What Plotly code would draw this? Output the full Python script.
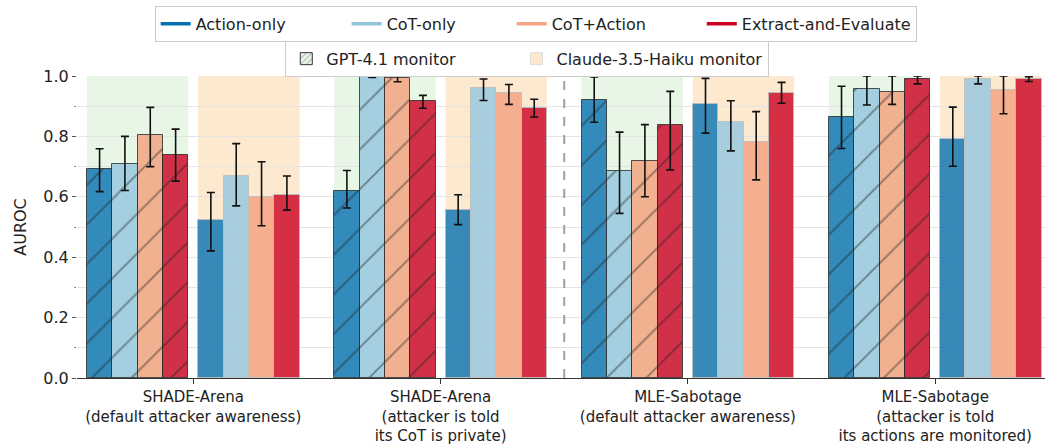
import plotly.graph_objects as go

categories = [
    "SHADE-Arena<br>(default attacker awareness)",
    "SHADE-Arena<br>(attacker is told<br>its CoT is private)",
    "MLE-Sabotage<br>(default attacker awareness)",
    "MLE-Sabotage<br>(attacker is told<br>its actions are monitored)",
]
methods = ["Action-only", "CoT-only", "CoT+Action", "Extract-and-Evaluate"]
monitors = ["GPT-4.1 monitor", "Claude-3.5-Haiku monitor"]

# GPT-4.1 monitor
gpt_action_only = [0.692, 0.620, 0.920, 0.863]
gpt_action_only_lo = [0.617, 0.563, 0.847, 0.760]
gpt_action_only_hi = [0.759, 0.687, 0.997, 0.966]
gpt_cot_only = [0.708, 0.999, 0.685, 0.956]
gpt_cot_only_lo = [0.621, 0.995, 0.545, 0.904]
gpt_cot_only_hi = [0.800, 1.000, 0.814, 1.000]
gpt_cot_action = [0.804, 0.992, 0.718, 0.948]
gpt_cot_action_lo = [0.700, 0.981, 0.600, 0.906]
gpt_cot_action_hi = [0.896, 1.000, 0.839, 1.000]
gpt_extract = [0.739, 0.916, 0.837, 0.989]
gpt_extract_lo = [0.652, 0.893, 0.689, 0.974]
gpt_extract_hi = [0.824, 0.936, 0.949, 1.000]

# Claude-3.5-Haiku monitor
haiku_action_only = [0.524, 0.557, 0.906, 0.790]
haiku_action_only_lo = [0.421, 0.508, 0.811, 0.701]
haiku_action_only_hi = [0.614, 0.607, 0.992, 0.897]
haiku_cot_only = [0.669, 0.961, 0.847, 0.990]
haiku_cot_only_lo = [0.570, 0.919, 0.752, 0.974]
haiku_cot_only_hi = [0.776, 0.990, 0.918, 1.000]
haiku_cot_action = [0.601, 0.945, 0.781, 0.954]
haiku_cot_action_lo = [0.504, 0.906, 0.656, 0.875]
haiku_cot_action_hi = [0.716, 0.972, 0.882, 1.000]
haiku_extract = [0.606, 0.893, 0.944, 0.989]
haiku_extract_lo = [0.556, 0.864, 0.910, 0.982]
haiku_extract_hi = [0.669, 0.923, 0.979, 0.998]

y_ticks = [0.0, 0.2, 0.4, 0.6, 0.8, 1.0]

series = {
    "gpt": [
        (gpt_action_only, gpt_action_only_lo, gpt_action_only_hi),
        (gpt_cot_only, gpt_cot_only_lo, gpt_cot_only_hi),
        (gpt_cot_action, gpt_cot_action_lo, gpt_cot_action_hi),
        (gpt_extract, gpt_extract_lo, gpt_extract_hi),
    ],
    "haiku": [
        (haiku_action_only, haiku_action_only_lo, haiku_action_only_hi),
        (haiku_cot_only, haiku_cot_only_lo, haiku_cot_only_hi),
        (haiku_cot_action, haiku_cot_action_lo, haiku_cot_action_hi),
        (haiku_extract, haiku_extract_lo, haiku_extract_hi),
    ],
}

line_colors = ["#0571b0", "#92c5de", "#f4a582", "#ca0020"]
fill_colors = ["rgba(5,113,176,0.80)", "rgba(146,197,222,0.80)",
               "rgba(244,165,130,0.85)", "rgba(202,0,32,0.80)"]

BW = 0.1025
CLUSTER_START = {"gpt": -0.43, "haiku": 0.02}
FONT = "DejaVu Sans"
NB = "\u00a0"

fig = go.Figure()

# background shading per monitor cluster
for g in range(len(categories)):
    fig.add_shape(type="rect", xref="x", yref="y", layer="below",
                  x0=g + CLUSTER_START["gpt"], x1=g + CLUSTER_START["gpt"] + 4 * BW,
                  y0=0, y1=1.0, line_width=0, fillcolor="#e7f6e5")
    fig.add_shape(type="rect", xref="x", yref="y", layer="below",
                  x0=g + CLUSTER_START["haiku"], x1=g + CLUSTER_START["haiku"] + 4 * BW,
                  y0=0, y1=1.0, line_width=0, fillcolor="#fde9d0")

fig.add_shape(type="line", xref="x", yref="y", x0=1.5, x1=1.5, y0=0, y1=1.0,
              line=dict(color="#a0a0a0", width=2, dash="dash"))

for mon in ["gpt", "haiku"]:
    for k, (vals, lo, hi) in enumerate(series[mon]):
        xs = [g + CLUSTER_START[mon] + (k + 0.5) * BW for g in range(len(categories))]
        plus = [h - v for h, v in zip(hi, vals)]
        minus = [v - l for v, l in zip(vals, lo)]
        if mon == "gpt":
            marker = dict(color=fill_colors[k],
                          line=dict(color="rgba(40,40,40,0.8)", width=1),
                          pattern=dict(shape="/", fillmode="overlay",
                                       fgcolor="rgba(30,30,30,0.8)", size=28, solidity=0.07))
        else:
            marker = dict(color=fill_colors[k],
                          line=dict(color="rgba(190,190,190,0.9)", width=1))
        fig.add_trace(go.Bar(
            x=xs, y=vals, width=BW, marker=marker, showlegend=False,
            error_y=dict(type="data", array=plus, arrayminus=minus, symmetric=False,
                         color="#111111", thickness=1.6, width=4),
        ))

# legend 1: methods
pads = [11, 10, 10, 0]
for k, m in enumerate(methods):
    fig.add_trace(go.Scatter(x=[None], y=[None], mode="lines", name=m + NB * pads[k],
                             line=dict(color=line_colors[k], width=3.5), legend="legend"))

# legend 2: monitors
fig.add_trace(go.Bar(x=[None], y=[None], name=monitors[0] + NB * 11, legend="legend2",
                     marker=dict(color="#e7f6e5", line=dict(color="#333333", width=1),
                                 pattern=dict(shape="/", fillmode="overlay", fgcolor="#333333",
                                              size=5, solidity=0.2))))
fig.add_trace(go.Bar(x=[None], y=[None], name=monitors[1], legend="legend2",
                     marker=dict(color="#fde9d0", line=dict(color="#dddddd", width=1))))

fig.update_layout(
    width=1045, height=448,
    margin=dict(l=77, r=0, t=76, b=70, autoexpand=False),
    paper_bgcolor="white", plot_bgcolor="white",
    font=dict(family=FONT, size=15, color="#222222"),
    barmode="overlay",
    bargap=0,
    showlegend=True,
    legend=dict(orientation="h", xref="container", yref="container",
                x=0.148, xanchor="left", y=0.987, yanchor="top",
                bordercolor="#cccccc", borderwidth=1, font=dict(size=16)),
    legend2=dict(orientation="h", xref="container", yref="container",
                 x=0.273, xanchor="left", y=0.909, yanchor="top",
                 bordercolor="#cccccc", borderwidth=1, font=dict(size=16)),
)

fig.update_xaxes(
    range=[-0.47, 3.444], automargin=False,
    tickmode="array", tickvals=list(range(len(categories))), ticktext=categories,
    ticks="outside", ticklen=5, tickcolor="#333333",
    showline=True, linecolor="#333333", linewidth=1,
    showgrid=False, zeroline=False,
    tickfont=dict(size=15, family=FONT),
)
fig.update_yaxes(
    range=[0, 1.0], automargin=False,
    tickmode="array", tickvals=y_ticks, ticktext=[f"{v:.1f}" for v in y_ticks],
    ticks="outside", ticklen=4, tickcolor="#555555",
    showline=False, zeroline=False,
    showgrid=True, gridcolor="#e4e4e4", gridwidth=1,
    minor=dict(dtick=0.1, tick0=0, showgrid=True, gridcolor="#e4e4e4", gridwidth=1,
               ticks="outside", ticklen=2, tickcolor="#888888"),
    title=dict(text="AUROC", font=dict(size=16, family=FONT), standoff=12),
    tickfont=dict(size=16, family=FONT),
)

fig.write_html("out.html", config={"displayModeBar": False},
               post_script="document.body.style.margin='0';")
